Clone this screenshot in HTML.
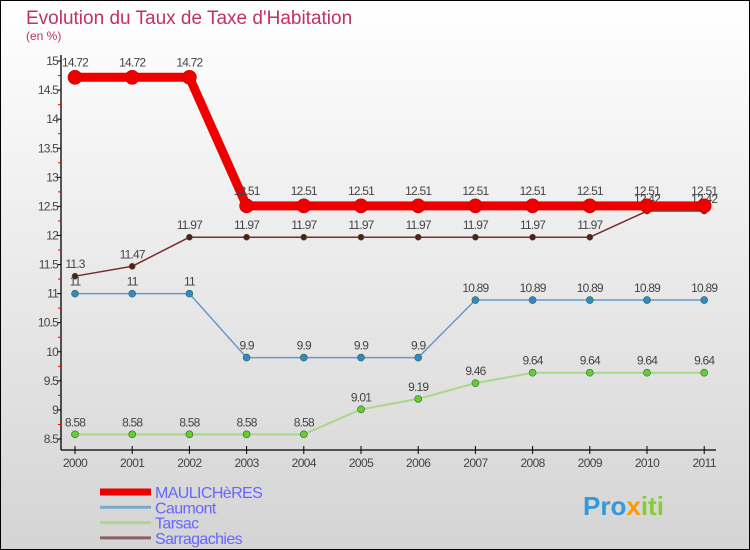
<!DOCTYPE html>
<html><head><meta charset="utf-8"><style>
body{margin:0}
svg{display:block;font-family:"Liberation Sans","DejaVu Sans",sans-serif}
</style></head><body>
<svg width="750" height="550" xmlns="http://www.w3.org/2000/svg">
<defs><linearGradient id="bg" x1="0" y1="0" x2="0" y2="1"><stop offset="0" stop-color="#ffffff"/><stop offset="1" stop-color="#d4d4d4"/></linearGradient></defs>
<rect x="0.5" y="0.5" width="749" height="549" fill="url(#bg)" stroke="#000"/>
<text x="26" y="24" font-size="19" fill="#c0306a">Evolution du Taux de Taxe d'Habitation</text>
<text x="26" y="40" font-size="12" fill="#c0306a">(en %)</text>
<g id="axes"></g><g id="series"></g><g id="legend"></g>
<text x="583" y="515" font-size="26" font-weight="bold" fill="#3399dd">Pro<tspan fill="#ff9900">x</tspan><tspan fill="#88cc33">iti</tspan></text>
</svg>
<script>
const years=["2000","2001","2002","2003","2004","2005","2006","2007","2008","2009","2010","2011"];
const yTicks=[8.5,9,9.5,10,10.5,11,11.5,12,12.5,13,13.5,14,14.5,15];
const maulicheres=[14.72,14.72,14.72,12.51,12.51,12.51,12.51,12.51,12.51,12.51,12.51,12.51];
const caumont=[11,11,11,9.9,9.9,9.9,9.9,10.89,10.89,10.89,10.89,10.89];
const tarsac=[8.58,8.58,8.58,8.58,8.58,9.01,9.19,9.46,9.64,9.64,9.64,9.64];
const sarragachies=[11.3,11.47,11.97,11.97,11.97,11.97,11.97,11.97,11.97,11.97,12.42,12.42];
const names=["MAULICHèRES","Caumont","Tarsac","Sarragachies"];
const NS="http://www.w3.org/2000/svg";
const xs=i=>75+i*57.2;
const ys=v=>439-(v-8.5)*58.15;
function mk(tag,at,parent){const e=document.createElementNS(NS,tag);for(const k in at)e.setAttribute(k,at[k]);parent.appendChild(e);return e;}
const ax=document.getElementById('axes');
let l=mk('line',{x1:61,y1:55,x2:61,y2:450,stroke:'#000','stroke-width':1.3},ax);


l=mk('line',{x1:61,y1:450,x2:716,y2:450,stroke:'#000','stroke-width':1.3},ax);


yTicks.forEach((v,i)=>{
 mk('line',{x1:57,y1:ys(v),x2:61,y2:ys(v),stroke:'#000'},ax);
 if(i<yTicks.length-1){mk('line',{x1:58,y1:ys(v+0.25),x2:61,y2:ys(v+0.25),stroke:'#e00'},ax);}
 const t=mk('text',{x:58,y:ys(v)+4,'font-size':12,'text-anchor':'end',fill:'#444','letter-spacing':'-0.8'},ax);
 t.textContent=String(v);
 
 
});
years.forEach((y,i)=>{
 mk('line',{x1:xs(i),y1:446,x2:xs(i),y2:454,stroke:'#000'},ax);
 const t=mk('text',{x:xs(i),y:467,'font-size':12,'text-anchor':'middle',fill:'#444','letter-spacing':'-0.6'},ax);
 t.textContent=y;
 
 
});
const sg=document.getElementById('series');
const defs=[[sarragachies,'#7a2b2b','#5a1a1a',1.5,3,'sarragachies'],[tarsac,'#a8d888','#66cc33',2,3.5,'tarsac'],[caumont,'#6699cc','#3388cc',1.5,3.5,'caumont'],[maulicheres,'#ee0000','#ee0000',9,7,'maulicheres']];
defs.forEach(([d,lc,pc,w,r,n])=>{
 const g=mk('g',{},sg);
 
 
 const p=mk('polyline',{points:d.map((v,i)=>xs(i)+','+ys(v)).join(' '),fill:'none',stroke:lc,'stroke-width':w,'stroke-linejoin':'round'},g);
 
 
 d.forEach((v,i)=>{
  const c=mk('circle',{cx:xs(i),cy:ys(v),r:r,fill:pc,stroke:n==='maulicheres'?'#cc0000':'#336633','stroke-width':0.6},g);
  
  
  const t=mk('text',{x:xs(i),y:ys(v)-(n==='maulicheres'?11:8),'font-size':12,'text-anchor':'middle',fill:'#444','letter-spacing':'-0.8'},g);
  t.textContent=String(v);
  
  
 });
});
const lg=document.getElementById('legend');
const lcol=['#ee0000','#7aa8cc','#a8d888','#8a6060'],lw=[7,3,3,3];
names.forEach((n,i)=>{
 const y=492+i*15.3;
 const g=mk('g',{},lg);
 
 
 mk('line',{x1:100,y1:y,x2:151,y2:y,stroke:lcol[i],'stroke-width':lw[i]},g);
 const t=mk('text',{x:155,y:y+6,'font-size':16,fill:'#6666ff','letter-spacing':'-0.6'},g);
 t.textContent=n;
});
</script>
</body></html>
